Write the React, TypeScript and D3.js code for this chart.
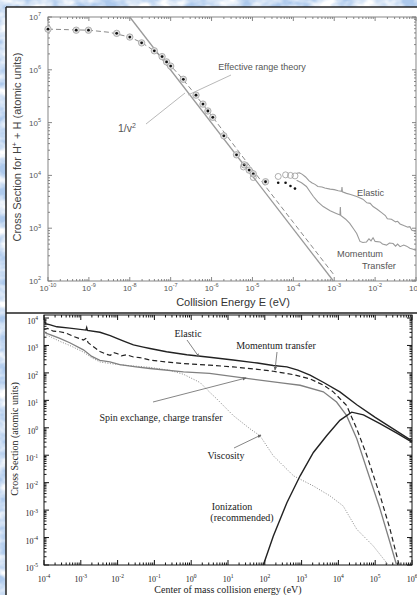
import React from "react";
import * as d3 from "d3";

// Top panel: H+ + H. Pairs are [log10 E (eV), log10 sigma (atomic units)]
const topTheory = [
  [-10, 6.77], [-9.5, 6.76], [-9, 6.75], [-8.5, 6.71], [-8.0, 6.62], [-7.7, 6.51],
  [-7.4, 6.36], [-7.1, 6.16], [-6.8, 5.91], [-6.5, 5.63], [-6.2, 5.33], [-5.9, 5.03],
  [-5.5, 4.62], [-5.0, 4.11], [-4.5, 3.61], [-4.0, 3.11], [-3.5, 2.61], [-3.0, 2.11],
];
const topInvV2 = [[-8.0, 7.0], [-3.02, 2.0]];
const topPoints = [
  [-10.0, 6.77], [-9.31, 6.75], [-9.01, 6.75], [-8.32, 6.69], [-8.0, 6.62], [-7.71, 6.51],
  [-7.4, 6.36], [-7.21, 6.25], [-7.1, 6.15], [-7.0, 6.07], [-6.69, 5.82], [-6.38, 5.52],
  [-6.21, 5.35], [-6.09, 5.22], [-5.97, 5.1], [-5.7, 4.75], [-5.39, 4.39], [-5.2, 4.2],
  [-5.08, 4.1], [-4.98, 4.03], [-4.68, 3.88],
];
const topOpen = [[-5.22, 4.16], [-4.98, 3.96], [-4.37, 3.98], [-4.19, 4.01], [-4.07, 4.0], [-3.96, 3.99]];
const topDots = [[-4.37, 3.86], [-4.19, 3.86], [-4.07, 3.8], [-3.96, 3.75]];
const topElastic = [
  [-3.92, 4.04], [-3.85, 4.05], [-3.78, 4.02], [-3.7, 3.97], [-3.62, 3.9], [-3.55, 3.86],
  [-3.47, 3.83], [-3.4, 3.79], [-3.3, 3.78], [-3.23, 3.76], [-3.1, 3.74], [-3.0, 3.73],
  [-2.9, 3.71], [-2.82, 3.7], [-2.81, 3.78], [-2.8, 3.69], [-2.7, 3.66], [-2.6, 3.64],
  [-2.45, 3.6], [-2.3, 3.55], [-2.2, 3.48], [-2.12, 3.47], [-2.05, 3.41], [-1.95, 3.36],
  [-1.85, 3.3], [-1.75, 3.24], [-1.7, 3.18], [-1.6, 3.17], [-1.5, 3.12], [-1.45, 3.13],
  [-1.39, 3.08], [-1.3, 3.05], [-1.2, 3.02], [-1.15, 3.03], [-1.1, 2.96], [-1.0, 2.94],
];
const topMomentum = [
  [-3.92, 3.91], [-3.8, 3.86], [-3.68, 3.79], [-3.6, 3.7], [-3.51, 3.6], [-3.4, 3.5],
  [-3.27, 3.41], [-3.1, 3.33], [-2.95, 3.28], [-2.86, 3.25], [-2.85, 3.4], [-2.84, 3.24],
  [-2.72, 3.17], [-2.62, 3.09], [-2.52, 2.98], [-2.45, 2.9], [-2.37, 2.75], [-2.3, 2.73],
  [-2.21, 2.74], [-2.15, 2.8], [-2.1, 2.76], [-2.05, 2.82], [-2.0, 2.75], [-1.88, 2.74],
  [-1.82, 2.7], [-1.72, 2.68], [-1.65, 2.72], [-1.56, 2.71], [-1.5, 2.66], [-1.45, 2.7],
  [-1.39, 2.65], [-1.3, 2.68], [-1.23, 2.66], [-1.15, 2.62], [-1.07, 2.6], [-1.0, 2.58],
];
const topXTicks = [-10, -9, -8, -7, -6, -5, -4, -3, -2, -1];
const topYTicks = [2, 3, 4, 5, 6, 7];

// Bottom panel: [log10 E (eV), log10 sigma (atomic units)]
const botElastic = [
  [-3.98, 3.9], [-3.96, 3.79], [-3.85, 3.76], [-3.65, 3.68], [-3.3, 3.63], [-2.86, 3.56],
  [-2.84, 3.65], [-2.82, 3.55], [-2.48, 3.48], [-2.2, 3.36], [-2.02, 3.26], [-1.8, 3.14],
  [-1.57, 3.02], [-1.3, 2.94], [-1.12, 2.89], [-0.67, 2.77], [-0.12, 2.66], [0.5, 2.57],
  [1.14, 2.47], [1.8, 2.36], [2.23, 2.27], [2.6, 2.22], [2.9, 2.1], [3.23, 1.92],
  [3.6, 1.65], [4.04, 1.31], [4.5, 0.84], [5.0, 0.38], [5.5, -0.05], [6.0, -0.48],
];
const botMomentum = [
  [-4.0, 3.58], [-3.9, 3.62], [-3.75, 3.52], [-3.57, 3.5], [-3.4, 3.45], [-3.2, 3.33],
  [-2.93, 3.2], [-2.85, 3.26], [-2.8, 3.1], [-2.6, 2.9], [-2.48, 2.78], [-2.3, 2.68],
  [-2.2, 2.64], [-2.1, 2.74], [-2.0, 2.7], [-1.9, 2.62], [-1.75, 2.66], [-1.57, 2.58],
  [-1.4, 2.56], [-1.12, 2.47], [-0.7, 2.4], [-0.21, 2.34], [0.5, 2.28], [1.14, 2.22],
  [1.8, 2.13], [2.23, 2.06], [2.8, 1.93], [3.23, 1.78], [3.6, 1.55], [3.86, 1.31],
  [4.22, 0.82], [4.5, -0.04], [4.77, -1.0], [5.13, -2.46], [5.4, -3.68], [5.63, -4.9],
  [5.65, -5.0],
];
const botSpin = [
  [-4.0, 3.48], [-3.8, 3.38], [-3.57, 3.26], [-3.3, 3.1], [-2.93, 2.84], [-2.7, 2.6],
  [-2.48, 2.46], [-2.21, 2.4], [-1.94, 2.3], [-1.5, 2.22], [-1.12, 2.16], [-0.21, 2.04],
  [0.5, 1.98], [1.51, 1.8], [2.5, 1.63], [2.96, 1.55], [3.59, 1.31], [3.95, 0.94],
  [4.22, 0.45], [4.5, -0.4], [4.77, -1.5], [5.13, -2.95], [5.4, -4.17], [5.58, -5.0],
];
const botViscosity = [
  [-4.0, 3.42], [-3.8, 3.3], [-3.57, 3.15], [-3.3, 3.0], [-2.93, 2.76], [-2.7, 2.55],
  [-2.48, 2.4], [-2.2, 2.34], [-1.8, 2.28], [-1.12, 2.2], [-0.6, 2.1], [-0.21, 1.95],
  [0.24, 1.65], [0.5, 1.3], [0.69, 1.06], [1.14, 0.45], [1.6, -0.04], [1.87, -0.29],
  [2.23, -1.02], [2.78, -1.75], [3.32, -2.12], [3.77, -2.48], [4.13, -2.85], [4.5, -3.7],
  [4.95, -4.31], [5.31, -4.92], [5.35, -5.0],
];
const botIonization = [
  [1.96, -5.0], [2.23, -3.95], [2.6, -2.73], [2.96, -1.75], [3.32, -0.9], [3.68, -0.29],
  [4.04, 0.27], [4.36, 0.57], [4.68, 0.47], [5.13, 0.15], [5.6, -0.2], [6.0, -0.52],
];
const botXTicks = [-4, -3, -2, -1, 0, 1, 2, 3, 4, 5, 6];
const botYTicks = [-5, -4, -3, -2, -1, 0, 1, 2, 3, 4];

const W = 417;
const H = 595;
const SANS = "'Liberation Sans', Arial, sans-serif";
const SERIF = "'Liberation Serif', 'Times New Roman', serif";

const xT = d3.scaleLog().domain([1e-10, 1e-1]).range([48, 416]);
const yT = d3.scaleLog().domain([1e2, 1e7]).range([281, 17]);
const xB = d3.scaleLog().domain([1e-4, 1e6]).range([44, 412]);
const yB = d3.scaleLog().domain([1e-5, 10 ** 4.11]).range([565, 315]);

function minorTicks(scale: any) {
  const [a, b] = scale.domain();
  const out: number[] = [];
  for (let k = Math.floor(Math.log10(a)); k <= Math.ceil(Math.log10(b)); k++) {
    for (let m = 2; m <= 9; m++) {
      const v = m * 10 ** k;
      if (v > a && v < b) out.push(v);
    }
  }
  return out;
}

function pathOf(x: any, y: any, pts: number[][]) {
  return d3
    .line<number[]>()
    .x((d) => x(10 ** d[0]))
    .y((d) => y(10 ** d[1]))(pts) as string;
}

function Ticks({ x, y, xt, yt, major, minor, stroke, sw }: any) {
  const [x0, x1] = x.range();
  const [y0, y1] = y.range();
  const els: any[] = [];
  xt.forEach((k: number) => {
    const px = x(10 ** k);
    els.push(<line key={"xb" + k} x1={px} x2={px} y1={y0} y2={y0 - major} />);
    els.push(<line key={"xt" + k} x1={px} x2={px} y1={y1} y2={y1 + major} />);
  });
  minorTicks(x).forEach((v, i) => {
    const px = x(v);
    els.push(<line key={"mxb" + i} x1={px} x2={px} y1={y0} y2={y0 - minor} />);
    els.push(<line key={"mxt" + i} x1={px} x2={px} y1={y1} y2={y1 + minor} />);
  });
  yt.forEach((k: number) => {
    const py = y(10 ** k);
    els.push(<line key={"yl" + k} x1={x0} x2={x0 + major} y1={py} y2={py} />);
    els.push(<line key={"yr" + k} x1={x1} x2={x1 - major} y1={py} y2={py} />);
  });
  minorTicks(y).forEach((v, i) => {
    const py = y(v);
    els.push(<line key={"myl" + i} x1={x0} x2={x0 + minor} y1={py} y2={py} />);
    els.push(<line key={"myr" + i} x1={x1} x2={x1 - minor} y1={py} y2={py} />);
  });
  return (
    <g stroke={stroke} strokeWidth={sw}>
      {els}
      <rect x={x0} y={y1} width={x1 - x0} height={y0 - y1} fill="none" />
    </g>
  );
}

function Pow({ x, y, k, anchor, size, sup }: any) {
  return (
    <text x={x} y={y} textAnchor={anchor} fontSize={size}>
      10<tspan dy={-size * 0.45} fontSize={sup}>{String(k)}</tspan>
    </text>
  );
}

export default function App() {
  return (
    <svg width={W} height={H} style={{ position: "absolute", left: 0, top: 0 }}>
      <defs>
        <filter id="tex" x="0" y="0" width="100%" height="100%">
          <feTurbulence type="fractalNoise" baseFrequency="0.05 0.08" numOctaves="3" seed="7" />
          <feColorMatrix
            type="matrix"
            values="0 0 0 0 1  0 0 0 0 1  0 0 0 0 1  2.4 0 0 0 -0.8"
          />
        </filter>
        <marker id="arr" viewBox="0 0 6 6" refX="5" refY="3" markerWidth="5" markerHeight="5" orient="auto">
          <path d="M0,0.5 L6,3 L0,5.5 Z" fill="#666" />
        </marker>
      </defs>
      <rect width={W} height={H} fill="#adc9ec" />
      <rect width={W} height={H} filter="url(#tex)" />

      {/* panels */}
      <rect x={6} y={7} width={W - 6} height={H - 7} fill="#fff" />
      <g stroke="#222" strokeWidth={1.5}>
        <line x1={6} x2={W} y1={7} y2={7} />
        <line x1={6} x2={6} y1={7} y2={H} />
        <line x1={6} x2={W} y1={313} y2={313} />
      </g>

      {/* ---------- top panel ---------- */}
      <Ticks x={xT} y={yT} xt={topXTicks} yt={topYTicks} major={4} minor={2} stroke="#7a7a7a" sw={0.9} />
      <g fill="none">
        <path d={pathOf(xT, yT, topInvV2)} stroke="#9a9a9a" strokeWidth={1.3} />
        <path d={pathOf(xT, yT, topTheory)} stroke="#8a8a8a" strokeWidth={1} strokeDasharray="5,3" />
        <path d={pathOf(xT, yT, topElastic)} stroke="#9a9a9a" strokeWidth={1.1} />
        <path d={pathOf(xT, yT, topMomentum)} stroke="#9a9a9a" strokeWidth={1.1} />
      </g>
      {topPoints.map((d, i) => (
        <g key={"tp" + i}>
          <circle cx={xT(10 ** d[0])} cy={yT(10 ** d[1])} r={3.2} fill="#e2e2e2" stroke="#a0a0a0" strokeWidth={0.8} />
          <circle cx={xT(10 ** d[0])} cy={yT(10 ** d[1])} r={1.4} fill="#111" />
        </g>
      ))}
      {topOpen.map((d, i) => (
        <circle key={"to" + i} cx={xT(10 ** d[0])} cy={yT(10 ** d[1])} r={3} fill="none" stroke="#9a9a9a" strokeWidth={0.8} />
      ))}
      {topDots.map((d, i) => (
        <circle key={"td" + i} cx={xT(10 ** d[0])} cy={yT(10 ** d[1])} r={1.3} fill="#111" />
      ))}
      <g fill="#555" fontFamily={SANS}>
        {topXTicks.map((k) => (
          <Pow key={"tx" + k} x={xT(10 ** k)} y={291} k={k} anchor="middle" size={8} sup={5.5} />
        ))}
        {topYTicks.map((k) => (
          <Pow key={"ty" + k} x={41} y={yT(10 ** k) + 3} k={k} anchor="end" size={8} sup={5.5} />
        ))}
        <text x={233} y={306} textAnchor="middle" fontSize={11} fill="#333">Collision Energy E (eV)</text>
        <text transform="translate(21,147) rotate(-90)" textAnchor="middle" fontSize={11} fill="#444">
          Cross Section for H<tspan dy={-4} fontSize={7}>+</tspan>
          <tspan dy={4}> + H  (atomic units)</tspan>
        </text>
        <text x={262} y={70} textAnchor="middle" fontSize={9}>Effective range theory</text>
        <text x={118} y={132} fontSize={10.5}>
          1/v<tspan dy={-4} fontSize={7}>2</tspan>
        </text>
        <text x={357} y={196} fontSize={9.2}>Elastic</text>
        <text x={337} y={257} fontSize={9.2}>Momentum</text>
        <text x={362} y={269} fontSize={9.2}>Transfer</text>
      </g>
      <g stroke="#b0b0b0" strokeWidth={0.9}>
        <line x1={231} y1={75} x2={188} y2={95} />
        <line x1={146} y1={124} x2={185} y2={93} />
      </g>

      {/* ---------- bottom panel ---------- */}
      <Ticks x={xB} y={yB} xt={botXTicks} yt={botYTicks} major={5} minor={2.5} stroke="#111" sw={1} />
      <g fill="none">
        <path d={pathOf(xB, yB, botViscosity)} stroke="#888" strokeWidth={1} strokeDasharray="1,1.6" />
        <path d={pathOf(xB, yB, botSpin)} stroke="#808080" strokeWidth={1.3} />
        <path d={pathOf(xB, yB, botMomentum)} stroke="#222" strokeWidth={1.2} strokeDasharray="5,3" />
        <path d={pathOf(xB, yB, botElastic)} stroke="#222" strokeWidth={1.4} />
        <path d={pathOf(xB, yB, botIonization)} stroke="#222" strokeWidth={1.4} />
      </g>
      <g fill="#222" fontFamily={SERIF}>
        {botXTicks.map((k) => (
          <Pow key={"bx" + k} x={xB(10 ** k)} y={582} k={k} anchor="middle" size={8} sup={5.5} />
        ))}
        {botYTicks.map((k) => (
          <Pow key={"by" + k} x={38} y={yB(10 ** k) + 6} k={k} anchor="end" size={8} sup={5.5} />
        ))}
        <text x={228} y={593} textAnchor="middle" fontSize={10}>Center of mass collision energy (eV)</text>
        <text transform="translate(18,439) rotate(-90)" textAnchor="middle" fontSize={10}>
          Cross Section (atomic units)
        </text>
        <text x={188} y={337} textAnchor="middle" fontSize={10}>Elastic</text>
        <text x={276} y={349} textAnchor="middle" fontSize={10}>Momentum transfer</text>
        <text x={161} y={421} textAnchor="middle" fontSize={10}>Spin exchange, charge transfer</text>
        <text x={226} y={459} textAnchor="middle" fontSize={10}>Viscosity</text>
        <text x={232} y={510} textAnchor="middle" fontSize={10}>Ionization</text>
        <text x={242} y={521} textAnchor="middle" fontSize={10}>(recommended)</text>
      </g>
      <g stroke="#666" strokeWidth={0.8} markerEnd="url(#arr)">
        <line x1={187} y1={340} x2={199} y2={357} />
        <line x1={277} y1={352} x2={275} y2={370} />
        <line x1={153} y1={402} x2={246} y2={378} />
        <line x1={234} y1={448} x2={261} y2={435} />
      </g>
    </svg>
  );
}
